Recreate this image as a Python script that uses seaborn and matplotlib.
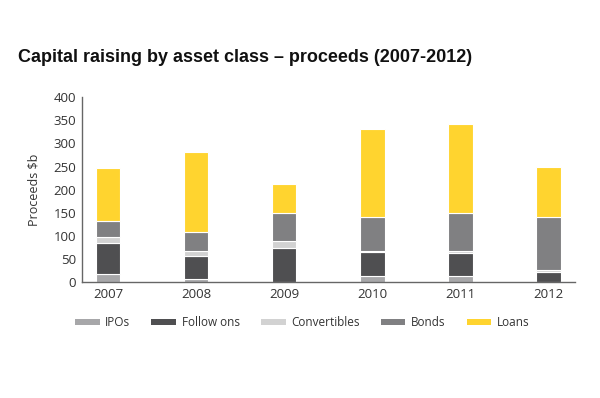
import matplotlib
matplotlib.use("Agg")
import matplotlib.pyplot as plt
import seaborn as sns
import pandas as pd
import numpy as np
from matplotlib.patches import Patch

years = ["2007", "2008", "2009", "2010", "2011", "2012"]
series = ["IPOs", "Follow ons", "Convertibles", "Bonds", "Loans"]
ipos = [17, 7, 1, 14, 14, 1]
follow_ons = [67, 50, 73, 51, 49, 22]
convertibles = [13, 11, 15, 3, 5, 4]
bonds = [36, 40, 60, 73, 81, 113]
loans = [114, 173, 63, 189, 192, 109]
yticks = [0, 50, 100, 150, 200, 250, 300, 350, 400]

colors = ["#a7a7a9", "#4f4f51", "#d2d2d2", "#808082", "#ffd42f"]

sns.set_style("white")
plt.rcParams["font.family"] = ["Open Sans", "DejaVu Sans"]

fig = plt.figure(figsize=(6.0, 3.98), dpi=100)
ax = fig.add_axes([0.136, 0.291, 0.822, 0.465])

values = [ipos, follow_ons, convertibles, bonds, loans]
bottom = np.zeros(len(years))
for name, vals, col in zip(series, values, colors):
    df = pd.DataFrame({"year": years, "value": vals})
    sns.barplot(data=df, x="year", y="value", color=col, ax=ax, width=0.28,
                bottom=bottom.copy(), edgecolor="white", linewidth=0.8,
                saturation=1, errorbar=None)
    bottom += np.array(vals)

ax.set_xlim(-0.3, 5.3)
ax.set_ylim(0, 400)
ax.set_yticks(yticks)
ax.set_yticklabels([str(t) for t in yticks])
ax.set_xlabel("")
ax.set_ylabel("Proceeds $b", fontsize=9, color="#333333", labelpad=9)
ax.tick_params(axis="both", length=0, labelsize=9.5, colors="#333333", pad=4)
for s in ["top", "right"]:
    ax.spines[s].set_visible(False)
for s in ["left", "bottom"]:
    ax.spines[s].set_color("#666666")
    ax.spines[s].set_linewidth(1.0)

fig.text(0.03, 0.845, "Capital raising by asset class \u2013 proceeds (2007-2012)",
         fontsize=13, fontweight="bold", family=["Liberation Sans", "DejaVu Sans"],
         color="#111111")

handles = [Patch(facecolor=c, edgecolor="none") for c in colors]
fig.legend(handles, series, loc="center left", bbox_to_anchor=(0.125, 0.19),
           ncol=5, frameon=False, fontsize=8.5, handlelength=2.1, handleheight=0.45,
           columnspacing=1.8, handletextpad=0.45, labelcolor="#333333",
           borderpad=0, borderaxespad=0)

fig.savefig("out.png", dpi=100)
